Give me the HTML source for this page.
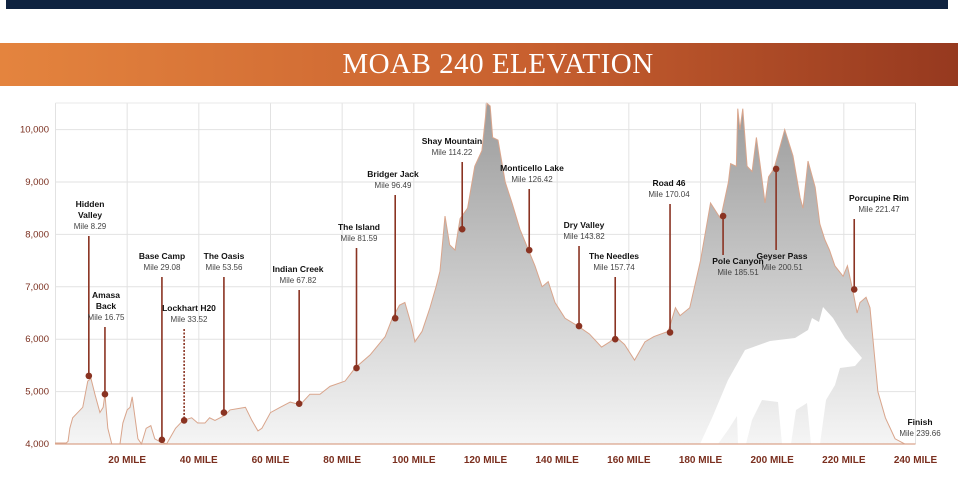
<!DOCTYPE html>
<html><head><meta charset="utf-8"><style>
html,body{margin:0;padding:0;background:#fff;}
body{width:963px;height:490px;overflow:hidden;position:relative;font-family:"Liberation Sans Narrow","Liberation Sans",sans-serif;}
#topbar{position:absolute;left:6px;top:0;width:942px;height:9px;background:#0f2340;}
#banner{position:absolute;left:0;top:43px;width:958px;height:43px;background:linear-gradient(90deg,#e4843e,#c8602f 55%,#96391f);}
#title{position:absolute;left:0;top:43px;width:996px;height:43px;line-height:43px;text-align:center;color:#fff;font-family:"Liberation Serif",serif;font-size:29px;letter-spacing:0.5px;}
svg{position:absolute;left:0;top:0;}
svg text{font-family:"Liberation Sans Narrow","Liberation Sans",sans-serif;}
</style></head><body>
<div id="topbar"></div>
<div id="banner"></div>
<div id="title">MOAB 240 ELEVATION</div>
<svg id="chart" width="963" height="490"></svg>
<script>
const miles=[0,3,3.5,4,4.8,6.2,7.6,9,9.9,11,12.4,13.3,13.8,14.6,15.7,18,18.8,20,20.8,21.4,22.2,23,24,25.3,26.6,27.7,29,31,33.5,35.6,38,39.7,41.7,43,44.5,47.3,48.7,53,54.8,56.5,57.6,60,62.7,65.5,68.3,71,73.8,76.6,80.8,83.6,87.8,92,94,96,97.5,99.4,100.3,102.3,104.5,106.2,107.3,108.7,110,111.5,112.9,115,117,119,120.4,121.3,122,123.5,125.5,127.4,129.6,132,133.8,135.8,137.5,139.4,142.2,145.8,149,152.4,154.7,156.3,158.8,161.6,164.5,167,171,173,174.3,177,180,182.8,185.6,187.8,188.4,190,190.4,191,191.8,193,194.4,195.6,196.7,198,199,200.5,203.5,205.8,207.8,208.6,210,212,213.3,214.7,216,217.5,219.8,221,222.6,223.7,224.5,226.2,227.3,229.5,231.6,234.3,237,240];
const elev=[4020,4020,4050,4300,4500,4600,4700,5200,5250,4950,4600,4700,4950,4300,4000,4000,4400,4650,4700,4900,4500,4100,4000,4300,4350,4100,4050,4000,4300,4450,4500,4400,4400,4500,4450,4550,4650,4700,4450,4250,4300,4600,4700,4800,4750,4950,4950,5100,5200,5450,5700,6050,6400,6650,6700,6250,5950,6150,6600,7000,7300,8350,7800,7700,8300,8500,9300,9600,10500,10450,9850,9800,9000,8600,8100,7700,7400,7000,7100,6700,6400,6250,6100,5850,5950,6050,5900,5600,5950,6050,6150,6600,6450,6600,7500,8600,8300,9000,9350,9300,10400,10000,10400,9300,9200,9850,9300,8600,9100,9250,10000,9500,8700,8500,9400,8900,8200,7900,7700,7400,7200,7400,6900,6500,6700,6800,6600,5000,4500,4100,4000,4000];
const yTicks=[4000,5000,6000,7000,8000,9000,10000];
const yTickLabels=["4,000","5,000","6,000","7,000","8,000","9,000","10,000"];
const xTicks=[20,40,60,80,100,120,140,160,180,200,220,240];
const stopNames=["Hidden Valley","Amasa Back","Base Camp","Lockhart H20","The Oasis","Indian Creek","The Island","Bridger Jack","Shay Mountain","Monticello Lake","Dry Valley","The Needles","Road 46","Pole Canyon","Geyser Pass","Porcupine Rim"];
const stopLabels=["Mile 8.29","Mile 16.75","Mile 29.08","Mile 33.52","Mile 53.56","Mile 67.82","Mile 81.59","Mile 96.49","Mile 114.22","Mile 126.42","Mile 143.82","Mile 157.74","Mile 170.04","Mile 185.51","Mile 200.51","Mile 221.47"];
const stopMiles=[9.3,13.8,29.7,35.9,47,68,84,94.8,113.5,132.2,146.1,156.2,171.5,186.3,201.1,222.9];
const stopElev=[5300,4950,4080,4450,4600,4770,5450,6400,8100,7700,6250,6000,6130,8350,9250,6950];

const svg=document.getElementById('chart');const NS='http://www.w3.org/2000/svg';
const X=m=>55.5+m*(860/240);
const Y=e=>444-(e-4000)*0.0524;
function mk(t,a,p){const e=document.createElementNS(NS,t);for(const k in a)e.setAttribute(k,a[k]);(p||svg).appendChild(e);return e;}
const defs=mk('defs',{});
const g=mk('linearGradient',{id:'fill',x1:0,y1:0,x2:0,y2:1},defs);
mk('stop',{offset:'0','stop-color':'#9b9b9b'},g);mk('stop',{offset:'1','stop-color':'#f5f5f5'},g);
const grid=mk('g',{});
for(let m=0;m<=240;m+=20)mk('line',{x1:X(m),x2:X(m),y1:103,y2:444,stroke:'#e2e2e2','stroke-width':1},grid);
mk('line',{x1:X(0),x2:X(240),y1:103,y2:103,stroke:'#e8e8e8'},grid);
yTicks.forEach((v,i)=>{mk('line',{x1:X(0),x2:X(240),y1:Y(v),y2:Y(v),stroke:'#e2e2e2'},grid);
 const t=mk('text',{x:49,y:Y(v)+3,'text-anchor':'end','font-size':9.5,fill:'#7a2e1e'});t.textContent=yTickLabels[i];
 });
xTicks.forEach(v=>{const t=mk('text',{x:X(v),y:463,'text-anchor':'middle','font-size':10,'font-weight':'bold',fill:'#7a2e1e'});t.textContent=v+' MILE';
 });
let d='M'+X(miles[0])+','+Y(4000);miles.forEach((m,i)=>d+=' L'+X(m)+','+Y(elev[i]));d+=' L'+X(240)+','+Y(4000)+'Z';
const area=mk('path',{d:d,fill:'url(#fill)',stroke:'#d9a58c','stroke-width':1});

const fox=mk('polygon',{points:'700,444 712,418 728,380 745,350 770,341 795,338 808,330 812,318 819,322 823,307 833,318 845,338 862,358 855,366 840,368 835,385 826,400 820,444 811,444 807,403 796,410 791,444 782,444 778,402 762,400 752,420 746,444 738,444 737,416 728,430 718,444',fill:'#fff'});

mk('line',{x1:X(0),x2:X(240),y1:444,y2:444,stroke:'#d9a58c','stroke-width':1.2});
const labelTop=[207,298,259,311,259,272,230,177,144,171,228,259,186,264,259,201];
const labelX=[90,106,162,189,224,298,359,393,452,532,584,614,669,738,782,879];
stopNames.forEach((n,i)=>{
 const gg=mk('g',{});
 const cx=X(stopMiles[i]),cy=Y(stopElev[i]);
 const words=(n==='Hidden Valley'||n==='Amasa Back')?n.split(' '):[n];
 let ty=labelTop[i];
 const below=(n==='Pole Canyon'||n==='Geyser Pass');
 words.forEach((w,k)=>{const t=mk('text',{x:labelX[i],y:ty+k*11,'text-anchor':'middle','font-size':8.5,'font-weight':'bold',fill:'#111'},gg);t.textContent=w;});
 const my=ty+(words.length-1)*11+11;
 const t2=mk('text',{x:labelX[i],y:my,'text-anchor':'middle','font-size':8,fill:'#444'},gg);t2.textContent=stopLabels[i];
 const ly1=below?ty-9:my+7;
 const ln=mk('line',{x1:cx,x2:cx,y1:ly1,y2:cy,stroke:'#8a3322','stroke-width':1.6},gg);
 if(n==='Lockhart H20')ln.setAttribute('stroke-dasharray','2,1.5');
 mk('circle',{cx:cx,cy:cy,r:3.3,fill:'#8a3322'},gg);
});
const f=mk('g',{});
let t=mk('text',{x:920,y:425,'text-anchor':'middle','font-size':8.5,'font-weight':'bold',fill:'#111'},f);t.textContent='Finish';
t=mk('text',{x:920,y:436,'text-anchor':'middle','font-size':8,fill:'#444'},f);t.textContent='Mile 239.66';
</script>
</body></html>
